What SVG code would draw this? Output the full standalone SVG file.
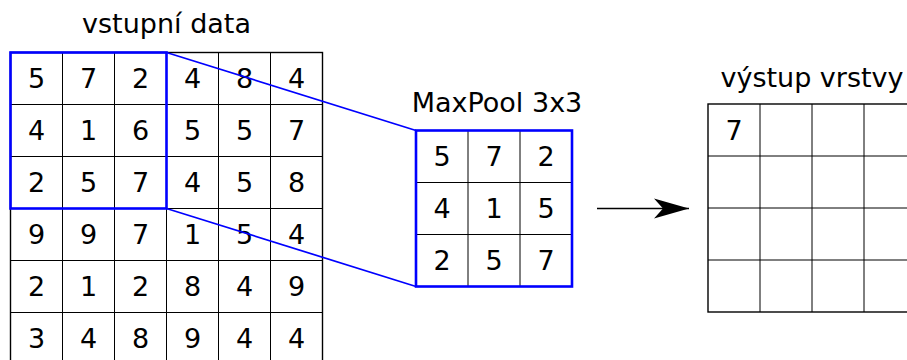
<svg xmlns="http://www.w3.org/2000/svg" width="907" height="360" viewBox="0 0 907 360">
  <style>
    .bg { fill: #ffffff; }
    .grid { fill: none; stroke: #000000; stroke-width: 1; }
    .frame { fill: none; stroke: #000000; stroke-width: 1.4; }
    .num { font-family: "DejaVu Sans", Verdana, sans-serif; font-size: 27px; fill: #000000; text-anchor: middle; }
    .title { font-family: "DejaVu Sans", Verdana, sans-serif; font-size: 27px; fill: #000000; text-anchor: middle; }
    .win { fill: none; stroke: #0000ff; stroke-width: 2.6; }
    .link { fill: none; stroke: #0000ff; stroke-width: 1.7; }
    .flow { fill: none; stroke: #000000; stroke-width: 1.6; }
  </style>
  <defs>
    <marker id="stealth" viewBox="0 0 36 22" refX="35" refY="11" markerWidth="36" markerHeight="22" markerUnits="userSpaceOnUse" orient="auto">
      <path d="M0,1 L35,11 L0,21 L9,11 Z" fill="#000000"/>
    </marker>
  </defs>
  <rect class="bg" x="0" y="0" width="907" height="360"/>

  <!-- input matrix 6x6 -->
  <g id="input">
    <text class="title" x="166.5" y="33">vstupní data</text>
    <rect class="frame" x="10.5" y="52.5" width="312" height="312"/>
    <path class="grid" d="M62.5,52.5V364.5 M114.5,52.5V364.5 M166.5,52.5V364.5 M218.5,52.5V364.5 M270.5,52.5V364.5 M10.5,104.5H322.5 M10.5,156.5H322.5 M10.5,208.5H322.5 M10.5,260.5H322.5 M10.5,312.5H322.5"/>
    <g class="num">
      <text x="36.5" y="88.3">5</text><text x="88.5" y="88.3">7</text><text x="140.5" y="88.3">2</text><text x="192.5" y="88.3">4</text><text x="244.5" y="88.3">8</text><text x="296.5" y="88.3">4</text>
      <text x="36.5" y="140.3">4</text><text x="88.5" y="140.3">1</text><text x="140.5" y="140.3">6</text><text x="192.5" y="140.3">5</text><text x="244.5" y="140.3">5</text><text x="296.5" y="140.3">7</text>
      <text x="36.5" y="192.3">2</text><text x="88.5" y="192.3">5</text><text x="140.5" y="192.3">7</text><text x="192.5" y="192.3">4</text><text x="244.5" y="192.3">5</text><text x="296.5" y="192.3">8</text>
      <text x="36.5" y="244.3">9</text><text x="88.5" y="244.3">9</text><text x="140.5" y="244.3">7</text><text x="192.5" y="244.3">1</text><text x="244.5" y="244.3">5</text><text x="296.5" y="244.3">4</text>
      <text x="36.5" y="296.3">2</text><text x="88.5" y="296.3">1</text><text x="140.5" y="296.3">2</text><text x="192.5" y="296.3">8</text><text x="244.5" y="296.3">4</text><text x="296.5" y="296.3">9</text>
      <text x="36.5" y="348.3">3</text><text x="88.5" y="348.3">4</text><text x="140.5" y="348.3">8</text><text x="192.5" y="348.3">9</text><text x="244.5" y="348.3">4</text><text x="296.5" y="348.3">4</text>
    </g>
    <rect id="window" class="win" x="10.5" y="52.5" width="156" height="156"/>
  </g>

  <!-- pooling window 3x3 -->
  <g id="pool">
    <text class="title" x="497" y="112">MaxPool 3x3</text>
    <path class="grid" d="M468,130.5V286.5 M520,130.5V286.5 M416,182.5H572 M416,234.5H572"/>
    <g class="num">
      <text x="442" y="166.3">5</text><text x="494" y="166.3">7</text><text x="546" y="166.3">2</text>
      <text x="442" y="218.3">4</text><text x="494" y="218.3">1</text><text x="546" y="218.3">5</text>
      <text x="442" y="270.3">2</text><text x="494" y="270.3">5</text><text x="546" y="270.3">7</text>
    </g>
    <rect class="win" x="416" y="130.5" width="156" height="156"/>
  </g>

  <!-- layer output 4x4 -->
  <g id="output">
    <text class="title" x="812" y="87">výstup vrstvy</text>
    <rect class="frame" x="708" y="104" width="208" height="208"/>
    <path class="grid" d="M760,104V312 M812,104V312 M864,104V312 M708,156H916 M708,208H916 M708,260H916"/>
    <text class="num" x="734" y="139.8">7</text>
  </g>

  <!-- connectors -->
  <g id="connectors">
    <line class="link" x1="166.5" y1="52.5" x2="416" y2="130.5"/>
    <line class="link" x1="166.5" y1="208.5" x2="416" y2="286.5"/>
    <line class="flow" x1="597" y1="208.5" x2="689" y2="208.5" marker-end="url(#stealth)"/>
  </g>
</svg>
